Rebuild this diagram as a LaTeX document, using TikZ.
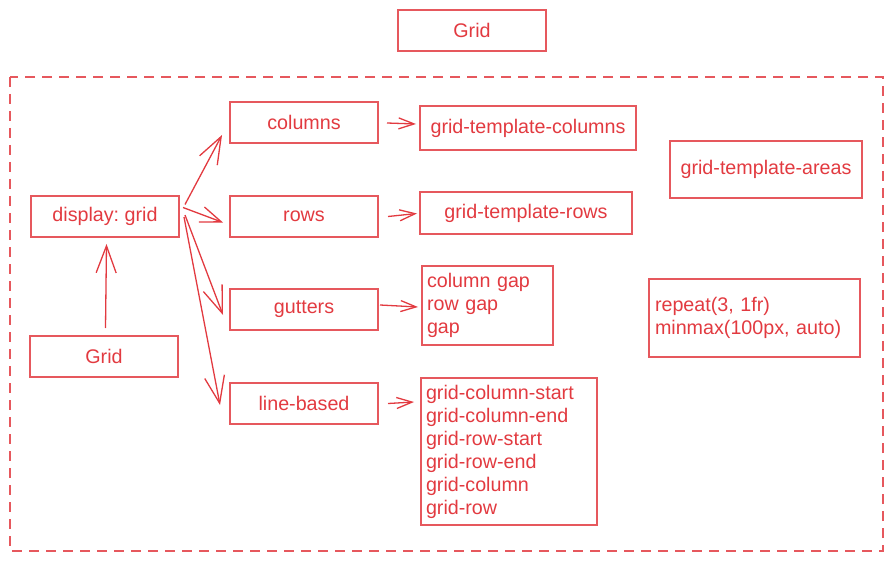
\documentclass[tikz,border=0pt]{standalone}
\usepackage{fontspec}
\setmainfont{Liberation Sans}
\usetikzlibrary{arrows.meta}
\definecolor{gridred}{RGB}{226,58,64}
\definecolor{boxred}{RGB}{230,88,93}

\begin{document}
\frenchspacing
\begin{tikzpicture}[x=1pt, y=-1pt,
    box/.style={draw=boxred, line width=2pt, text=gridred, inner sep=0pt,
      minimum width=148pt, minimum height=41pt, font=\fontsize{19.7}{23}\selectfont},
    listbox/.style={box, align=left, inner xsep=5pt, minimum width=0pt},
    arr/.style={draw=gridred, line width=1.3pt, -{Straight Barb[length=27pt,width=20pt]}},
    midarr/.style={arr, -{Straight Barb[length=21pt,width=16pt]}},
    shortarr/.style={arr, -{Straight Barb[length=15.5pt,width=11pt]}}]
  \useasboundingbox (0,0) rectangle (893,561);

  \node[box] (title) at (472, 30.5) {Grid};
  \draw[boxred, line width=2pt, dash pattern=on 10pt off 7pt] (10,77) rectangle (883,551);

  \node[box] (display) at (105, 216.5) {display: grid};
  \node[box] (gridb) at (104, 356.5) {Grid};

  \node[box] (columns) at (304, 122.5) {columns};
  \node[box] (rows) at (304, 216.5) {rows};
  \node[box] (gutters) at (304, 309.5) {gutters};
  \node[box] (linebased) at (304, 403.5) {line-based};

  \node[box, minimum width=216pt, minimum height=44pt] (gtc) at (528, 128) {grid-template-columns};
  \node[box, minimum width=212pt, minimum height=42pt] (gtr) at (526, 213) {grid-template-rows};
  \node[listbox, text width=121pt, minimum height=79pt] (gaps) at (487.5, 305.5)
    {column gap\\row gap\\gap};
  \node[listbox, text width=166pt, minimum height=147pt] (lines) at (509, 451.5)
    {grid-column-start\\grid-column-end\\grid-row-start\\grid-row-end\\grid-column\\grid-row};
  \node[box, minimum width=192pt, minimum height=57pt] (gta) at (766, 169.5) {grid-template-areas};
  \node[listbox, inner xsep=6pt, text width=199pt, minimum height=78pt] (rep) at (754.5, 318)
    {repeat(3, 1fr)\\minmax(100px, auto)};

  \draw[arr] ([shift={(1.5,-7)}]gridb.north) -- ([shift={(1.5,6)}]display.south);

  \draw[arr] ([shift={(5,-12)}]display.east) -- ([shift={(-7,12.5)}]columns.west);
  \draw[midarr] ([shift={(3,-9)}]display.east) -- ([shift={(-6,6)}]rows.west);
  \draw[arr] ([shift={(5,-1.5)}]display.east) -- ([shift={(-6,5.5)}]gutters.west);
  \draw[arr] ([shift={(4,0.5)}]display.east) -- ([shift={(-9,1.5)}]linebased.west);

  \draw[shortarr] ([shift={(8,0.5)}]columns.east) -- ([shift={(-3,-4)}]gtc.west);
  \draw[shortarr] ([shift={(9,0)}]rows.east) -- ([shift={(-2,0.5)}]gtr.west);
  \draw[shortarr] ([shift={(1,-4.5)}]gutters.east) -- ([shift={(-3,1.5)}]gaps.west);
  \draw[shortarr] ([shift={(9,0)}]linebased.east) -- ([shift={(-6,25)}]lines.north west);
\end{tikzpicture}
\end{document}
